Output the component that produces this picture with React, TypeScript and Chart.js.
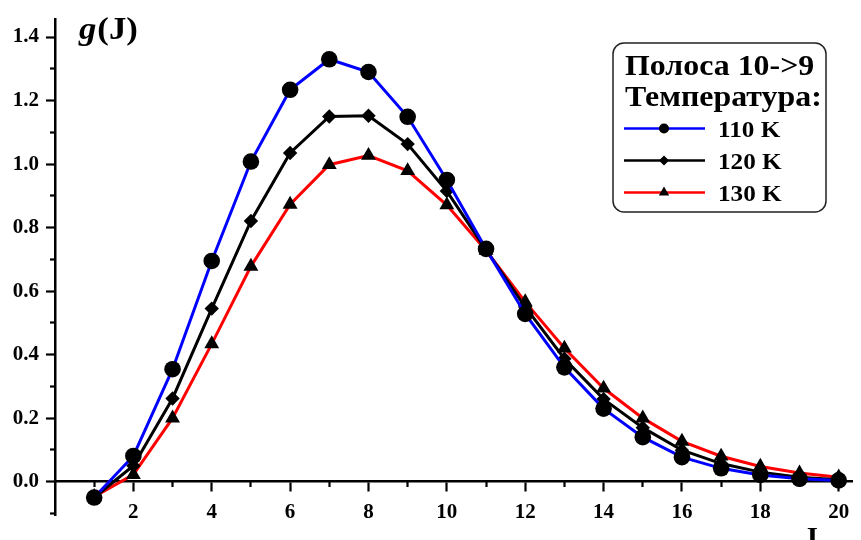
import React, { useEffect, useRef } from "react";
import { Chart, registerables } from "chart.js";

Chart.register(...registerables);

// ---- data ----
const J = [1, 2, 3, 4, 5, 6, 7, 8, 9, 10, 11, 12, 13, 14, 15, 16, 17, 18, 19, 20];
const g110 = [-0.05, 0.081, 0.354, 0.695, 1.008, 1.234, 1.33, 1.29, 1.149, 0.95, 0.733, 0.528, 0.36, 0.23, 0.14, 0.077, 0.042, 0.021, 0.009, 0.004];
const g120 = [-0.05, 0.05, 0.262, 0.545, 0.821, 1.035, 1.15, 1.152, 1.063, 0.915, 0.73, 0.55, 0.387, 0.26, 0.17, 0.099, 0.057, 0.03, 0.014, 0.006];
const g130 = [-0.047, 0.022, 0.2, 0.434, 0.678, 0.873, 0.998, 1.027, 0.979, 0.871, 0.728, 0.566, 0.42, 0.294, 0.2, 0.127, 0.08, 0.048, 0.027, 0.014];
const seriesLabels = ["110 K", "120 K", "130 K"];
const seriesColors = ["#0000ff", "#000000", "#ff0000"];
const seriesMarkers = ["circle", "rectRot", "triangle"];
const legendTitle = ["Полоса 10->9", "Температура:"];
const xMajorTicks = [2, 4, 6, 8, 10, 12, 14, 16, 18, 20];
const xMinorTicks = [1, 3, 5, 7, 9, 11, 13, 15, 17, 19];
const yMajorTicks = [0, 0.2, 0.4, 0.6, 0.8, 1.0, 1.2, 1.4];
const yMinorTicks = [-0.1, 0.1, 0.3, 0.5, 0.7, 0.9, 1.1, 1.3];
const yTitleItalic = "g";
const yTitleRest = "(J)";
const xTitle = "J";

const FONT = '"Liberation Serif", "Times New Roman", serif';
const X_MIN = 0;
const X_MAX = 20.35;
const Y_MIN = -0.105;
const Y_MAX = 1.455;

function drawMarker(ctx: CanvasRenderingContext2D, style: string, x: number, y: number, r: number) {
  ctx.beginPath();
  if (style === "circle") {
    ctx.arc(x, y, r, 0, Math.PI * 2);
  } else if (style === "rectRot") {
    ctx.moveTo(x, y - r);
    ctx.lineTo(x + r, y);
    ctx.lineTo(x, y + r);
    ctx.lineTo(x - r, y);
    ctx.closePath();
  } else {
    const h = r * 1.5;
    const w = r * Math.sqrt(3);
    ctx.moveTo(x, y - r);
    ctx.lineTo(x + w / 2, y - r + h);
    ctx.lineTo(x - w / 2, y - r + h);
    ctx.closePath();
  }
  ctx.fillStyle = "#000";
  ctx.fill();
}

function stretchedText(ctx: CanvasRenderingContext2D, text: string, x: number, y: number, sx: number) {
  ctx.save();
  ctx.translate(x, y);
  ctx.scale(sx, 1);
  ctx.fillText(text, 0, 0);
  const w = ctx.measureText(text).width * sx;
  ctx.restore();
  return w;
}

const decorPlugin = {
  id: "decor",
  afterDraw(chart: any) {
    const ctx: CanvasRenderingContext2D = chart.ctx;
    ctx.save();
    ctx.fillStyle = "#000";
    ctx.textBaseline = "alphabetic";
    ctx.textAlign = "left";
    // y title g(J)
    ctx.font = `italic bold 31px ${FONT}`;
    const gw = stretchedText(ctx, yTitleItalic, 79, 39, 1.12);
    ctx.font = `bold 31px ${FONT}`;
    stretchedText(ctx, yTitleRest, 79 + gw + 1, 39, 1.12);
    // x title J
    ctx.font = `bold 28px ${FONT}`;
    stretchedText(ctx, xTitle, 803, 546, 1.05);

    // legend box
    const bx = 613, by = 43, bw = 213, bh = 169, r = 11;
    ctx.beginPath();
    ctx.moveTo(bx + r, by);
    ctx.lineTo(bx + bw - r, by);
    ctx.arcTo(bx + bw, by, bx + bw, by + r, r);
    ctx.lineTo(bx + bw, by + bh - r);
    ctx.arcTo(bx + bw, by + bh, bx + bw - r, by + bh, r);
    ctx.lineTo(bx + r, by + bh);
    ctx.arcTo(bx, by + bh, bx, by + bh - r, r);
    ctx.lineTo(bx, by + r);
    ctx.arcTo(bx, by, bx + r, by, r);
    ctx.closePath();
    ctx.fillStyle = "#fff";
    ctx.fill();
    ctx.strokeStyle = "#222";
    ctx.lineWidth = 1.5;
    ctx.stroke();

    ctx.fillStyle = "#000";
    ctx.font = `bold 29px ${FONT}`;
    stretchedText(ctx, legendTitle[0], 625, 75, 1.1);
    stretchedText(ctx, legendTitle[1], 625, 106, 1.1);

    ctx.font = `bold 24px ${FONT}`;
    chart.data.datasets.forEach((ds: any, i: number) => {
      const y = 128.5 + i * 32;
      ctx.beginPath();
      ctx.moveTo(624, y);
      ctx.lineTo(705, y);
      ctx.strokeStyle = ds.borderColor;
      ctx.lineWidth = 2.6;
      ctx.stroke();
      drawMarker(ctx, ds.pointStyle, 664, y, ds.pointStyle === "triangle" ? 6 : 5);
      ctx.fillStyle = "#000";
      stretchedText(ctx, ds.label, 718, y + 8.5, 1.05);
    });
    ctx.restore();
  },
};

const tickFont = { family: FONT, size: 21, weight: "bold" as const };

export default function App() {
  const ref = useRef<HTMLCanvasElement | null>(null);

  useEffect(() => {
    if (!ref.current) return;
    const series = [g110, g120, g130];
    const radii = [8.3, 7.2, 8.6];
    const chart = new Chart(ref.current, {
      type: "line",
      data: {
        datasets: series.map((s, i) => ({
          label: seriesLabels[i],
          data: J.map((x, k) => ({ x, y: s[k] })),
          xAxisID: "x",
          yAxisID: "y",
          borderColor: seriesColors[i],
          borderWidth: 3,
          pointStyle: seriesMarkers[i] as any,
          pointRadius: radii[i],
          pointBackgroundColor: "#000",
          pointBorderColor: "#000",
          pointBorderWidth: 0,
          tension: 0,
          fill: false,
        })),
      },
      options: {
        responsive: false,
        animation: false,
        devicePixelRatio: 1,
        layout: { padding: { top: 17, bottom: 25, left: 0, right: 0 } },
        plugins: { legend: { display: false }, tooltip: { enabled: false } },
        scales: {
          x: {
            type: "linear",
            min: X_MIN,
            max: X_MAX,
            position: { y: 0 } as any,
            afterBuildTicks: (s: any) => {
              s.ticks = xMajorTicks.map((v) => ({ value: v }));
            },
            ticks: {
              autoSkip: false,
              maxRotation: 0,
              padding: 9,
              color: "#000",
              font: tickFont,
              callback: (v: any) => String(v),
            },
            grid: { drawOnChartArea: false, drawTicks: true, tickLength: 9, tickWidth: 2.2, tickColor: "#000" },
            border: { display: true, color: "#000", width: 2.5 },
          },
          xMinor: {
            type: "linear",
            axis: "x",
            min: X_MIN,
            max: X_MAX,
            position: { y: 0 } as any,
            afterBuildTicks: (s: any) => {
              s.ticks = xMinorTicks.map((v) => ({ value: v }));
            },
            ticks: { autoSkip: false, maxRotation: 0, callback: () => "" },
            grid: { drawOnChartArea: false, drawTicks: true, tickLength: 5, tickWidth: 2.2, tickColor: "#000" },
            border: { display: false },
          },
          y: {
            type: "linear",
            min: Y_MIN,
            max: Y_MAX,
            afterBuildTicks: (s: any) => {
              s.ticks = yMajorTicks.map((v) => ({ value: v }));
            },
            afterFit: (s: any) => {
              s.width = 55;
            },
            ticks: {
              autoSkip: false,
              padding: 7,
              color: "#000",
              font: tickFont,
              callback: (v: any) => Number(v).toFixed(1),
            },
            grid: { drawOnChartArea: false, drawTicks: true, tickLength: 9, tickWidth: 2.2, tickColor: "#000" },
            border: { display: true, color: "#000", width: 2.5 },
          },
          yMinor: {
            type: "linear",
            axis: "y",
            min: Y_MIN,
            max: Y_MAX,
            position: { x: 0 } as any,
            afterBuildTicks: (s: any) => {
              s.ticks = yMinorTicks.map((v) => ({ value: v }));
            },
            ticks: { autoSkip: false, callback: () => "" },
            grid: { drawOnChartArea: false, drawTicks: true, tickLength: 5, tickWidth: 2.2, tickColor: "#000" },
            border: { display: false },
          },
        },
      },
      plugins: [decorPlugin],
    });
    return () => chart.destroy();
  }, []);

  return (
    <div style={{ position: "fixed", left: 0, top: 0, width: 861, height: 540, background: "#fff" }}>
      <canvas ref={ref} width={861} height={540} style={{ display: "block" }} />
    </div>
  );
}
